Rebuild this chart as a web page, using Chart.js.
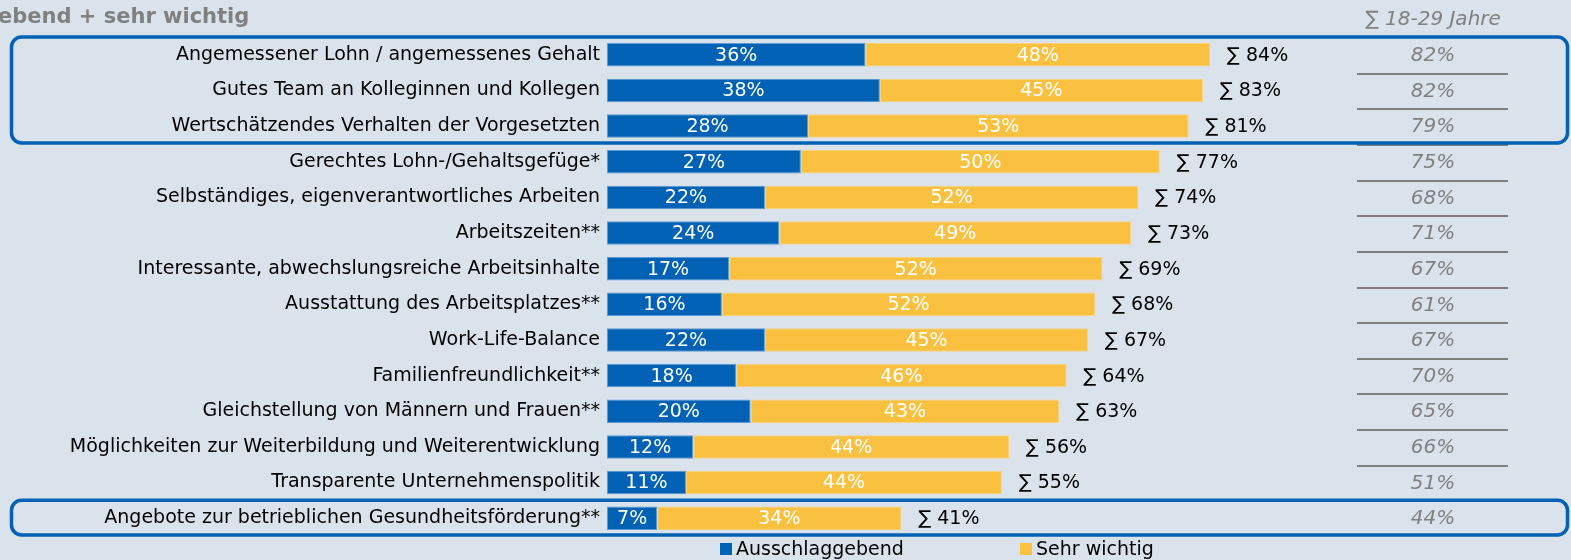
<!DOCTYPE html>
<html>
<head>
<meta charset="utf-8">
<script src="https://cdn.jsdelivr.net/npm/chart.js@4/dist/chart.umd.min.js"></script>
<style>
  html, body { margin: 0; padding: 0; background: #DAE3EB; }
  #wrap { width: 1571px; height: 560px; position: relative; }
</style>
</head>
<body>
<div id="wrap"><canvas id="c"></canvas></div>
<script>
const categories = [
  "Angemessener Lohn / angemessenes Gehalt",
  "Gutes Team an Kolleginnen und Kollegen",
  "Wertschätzendes Verhalten der Vorgesetzten",
  "Gerechtes Lohn-/Gehaltsgefüge*",
  "Selbständiges, eigenverantwortliches Arbeiten",
  "Arbeitszeiten**",
  "Interessante, abwechslungsreiche Arbeitsinhalte",
  "Ausstattung des Arbeitsplatzes**",
  "Work-Life-Balance",
  "Familienfreundlichkeit**",
  "Gleichstellung von Männern und Frauen**",
  "Möglichkeiten zur Weiterbildung und Weiterentwicklung",
  "Transparente Unternehmenspolitik",
  "Angebote zur betrieblichen Gesundheitsförderung**"
];
const ausschlaggebend = [36, 38, 28, 27, 22, 24, 17, 16, 22, 18, 20, 12, 11, 7];
const sehrWichtig     = [48, 45, 53, 50, 52, 49, 52, 52, 45, 46, 43, 44, 44, 34];
const summe           = [84, 83, 81, 77, 74, 73, 69, 68, 67, 64, 63, 56, 55, 41];
const jahre18bis29    = [82, 82, 79, 75, 68, 71, 67, 61, 67, 70, 65, 66, 51, 44];
const seriesNames = ["Ausschlaggebend", "Sehr wichtig"];
const titleText = "ebend + sehr wichtig";
const sideHeader = "∑ 18-29 Jahre";
const highlightGroups = [[0, 2], [13, 13]];

const BLUE = "#0061B5";
const YELLOW = "#FAC140";
const FONT = "'DejaVu Sans', Tahoma, sans-serif";

const overlay = {
  id: "overlay",
  afterDatasetsDraw(chart) {
    const ctx = chart.ctx;
    const y = chart.scales.y, x = chart.scales.x;
    const step = y.getPixelForValue(1) - y.getPixelForValue(0);
    ctx.save();
    // segment value labels
    ctx.font = "19px " + FONT;
    ctx.textAlign = "center";
    ctx.textBaseline = "middle";
    ctx.fillStyle = "#ffffff";
    chart.data.datasets.forEach((ds, di) => {
      const meta = chart.getDatasetMeta(di);
      meta.data.forEach((el, i) => {
        const cx = (el.x + el.base) / 2;
        ctx.fillText(ds.data[i] + "%", cx, el.y + 1);
      });
    });
    // sum labels
    ctx.fillStyle = "#000000";
    ctx.textAlign = "left";
    summe.forEach((v, i) => {
      const px = x.getPixelForValue(ausschlaggebend[i] + sehrWichtig[i]);
      ctx.fillText("∑ " + v + "%", px + 17, y.getPixelForValue(i) + 1);
    });
    // right column
    ctx.font = "italic 20px " + FONT;
    ctx.fillStyle = "#808080";
    ctx.textAlign = "center";
    jahre18bis29.forEach((v, i) => {
      ctx.fillText(v + "%", 1433, y.getPixelForValue(i) + 1);
    });
    ctx.strokeStyle = "#7F7F7F";
    ctx.lineWidth = 2;
    jahre18bis29.slice(0, -1).forEach((v, i) => {
      const ly = Math.round(y.getPixelForValue(i) + step / 2) + 1;
      ctx.beginPath();
      ctx.moveTo(1357, ly);
      ctx.lineTo(1508, ly);
      ctx.stroke();
    });
    ctx.fillText(sideHeader, 1433, 20);
    // title
    ctx.font = "bold 21px " + FONT;
    ctx.textAlign = "left";
    ctx.fillStyle = "#808080";
    ctx.fillText(titleText, -2, 18);
    // highlight boxes
    ctx.strokeStyle = BLUE;
    ctx.lineWidth = 3.5;
    highlightGroups.forEach(([a, b]) => {
      const top = y.getPixelForValue(a) - step / 2;
      const bot = y.getPixelForValue(b) + step / 2 - 1;
      ctx.beginPath();
      ctx.roundRect(11.5, top, 1556, bot - top, 10);
      ctx.stroke();
    });
    // legend
    ctx.font = "19px " + FONT;
    ctx.textBaseline = "middle";
    const legendItems = [[720, BLUE], [1020, YELLOW]];
    legendItems.forEach(([lx, col], k) => {
      ctx.fillStyle = col;
      ctx.fillRect(lx, 543, 12, 12);
      ctx.fillStyle = "#000000";
      ctx.fillText(seriesNames[k], lx + 16, 550);
    });
    ctx.restore();
  }
};

new Chart(document.getElementById("c"), {
  type: "bar",
  data: {
    labels: categories,
    datasets: [
      { label: seriesNames[0], data: ausschlaggebend, backgroundColor: BLUE,
        borderColor: "#5B9BD5", borderWidth: 1, borderSkipped: false },
      { label: seriesNames[1], data: sehrWichtig, backgroundColor: YELLOW,
        borderColor: "#FCD27A", borderWidth: 1, borderSkipped: false }
    ]
  },
  options: {
    indexAxis: "y",
    responsive: true,
    maintainAspectRatio: false,
    animation: false,
    layout: { padding: { left: 0, right: 246, top: 37, bottom: 24 } },
    datasets: { bar: { barPercentage: 0.66, categoryPercentage: 1 } },
    plugins: { legend: { display: false }, tooltip: { enabled: false }, title: { display: false } },
    scales: {
      x: { stacked: true, min: 0, max: 100, display: false },
      y: {
        stacked: true,
        grid: { display: false, drawTicks: false },
        border: { display: false },
        ticks: { color: "#000000", font: { family: FONT, size: 19 }, padding: 7, autoSkip: false },
        afterFit(scale) { scale.width = 607; }
      }
    }
  },
  plugins: [overlay]
});
</script>
</body>
</html>
